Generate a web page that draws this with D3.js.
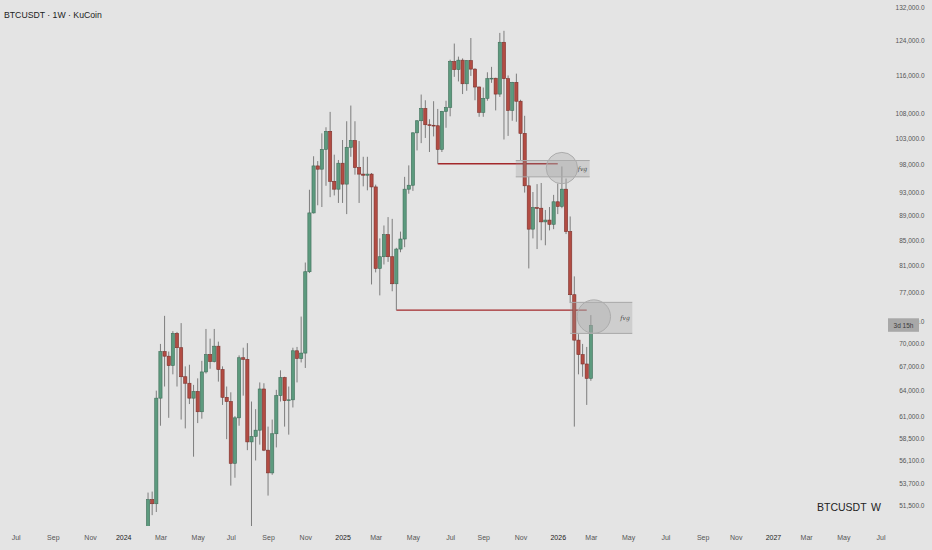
<!DOCTYPE html>
<html><head><meta charset="utf-8">
<script src="https://cdn.jsdelivr.net/npm/d3@7"></script>
<style>
html,body{margin:0;padding:0;background:#e4e4e4;}
svg{display:block;font-family:"Liberation Sans",Arial,sans-serif;}
</style></head><body>
<svg id="c" width="932" height="550"></svg>
<script>
// ---- DATA ----
const dates = [
"2024-02-12","2024-02-19","2024-02-26","2024-03-04","2024-03-11","2024-03-18","2024-03-25","2024-04-01","2024-04-08","2024-04-15",
"2024-04-22","2024-04-29","2024-05-06","2024-05-13","2024-05-20","2024-05-27","2024-06-03","2024-06-10","2024-06-17","2024-06-24",
"2024-07-01","2024-07-08","2024-07-15","2024-07-22","2024-07-29","2024-08-05","2024-08-12","2024-08-19","2024-08-26","2024-09-02",
"2024-09-09","2024-09-16","2024-09-23","2024-09-30","2024-10-07","2024-10-14","2024-10-21","2024-10-28","2024-11-04","2024-11-11",
"2024-11-18","2024-11-25","2024-12-02","2024-12-09","2024-12-16","2024-12-23","2024-12-30",
"2025-01-06","2025-01-13","2025-01-20","2025-01-27","2025-02-03","2025-02-10","2025-02-17","2025-02-24","2025-03-03","2025-03-10",
"2025-03-17","2025-03-24","2025-03-31","2025-04-07","2025-04-14","2025-04-21","2025-04-28","2025-05-05","2025-05-12","2025-05-19",
"2025-05-26","2025-06-02","2025-06-09","2025-06-16","2025-06-23","2025-06-30","2025-07-07","2025-07-14","2025-07-21","2025-07-28",
"2025-08-04","2025-08-11","2025-08-18","2025-08-25","2025-09-01","2025-09-08","2025-09-15","2025-09-22","2025-09-29","2025-10-06",
"2025-10-13","2025-10-20","2025-10-27","2025-11-03","2025-11-10","2025-11-17","2025-11-24","2025-12-01","2025-12-08","2025-12-15",
"2025-12-22","2025-12-29",
"2026-01-05","2026-01-12","2026-01-19","2026-01-26","2026-02-02","2026-02-09","2026-02-16","2026-02-23","2026-03-02"];
const opens = [
48300,52100,51700,63100,68900,68300,67100,71300,69400,65700,
64900,63100,63900,61500,66300,68500,67600,69600,66600,63200,
62700,55800,60800,68100,67900,58100,58700,59400,64200,57200,
54800,59000,63400,65600,62800,62900,69000,68000,68700,80100,
89500,97800,97200,100900,104400,95000,93600,
98300,94500,101300,102600,97500,96300,96100,96300,94000,80600,
82400,85900,82400,78300,83600,85200,93600,94300,104100,106500,
109000,105700,105600,105500,100900,108400,109200,119100,117300,119400,
114200,119300,117400,113500,108200,111100,115300,115400,112000,123500,
115300,108600,114500,110500,104000,94200,86800,90400,90300,88000,
88300,87600,
91400,90600,93600,86400,76700,70400,68500,67300,65500];
const highs = [
52800,52900,64000,69900,73700,68900,71600,71500,72700,67000,
67200,64700,65500,67700,71900,70600,71900,70200,67000,64500,
63800,61000,68400,69400,70000,62700,61800,65000,64900,59800,
60600,64100,66500,65700,64500,69400,69500,73600,81500,93500,
99600,98700,104000,105200,108300,99900,98900,
102700,106400,109600,106400,102500,99500,99500,96500,94400,85300,
87400,88800,88500,83800,86400,95800,97900,104200,106600,111900,
110700,106800,110500,108900,108500,110600,119500,123200,120200,119800,
119400,124500,117600,113600,113400,116700,117900,115500,125700,126200,
116000,114600,116400,110800,107500,95800,93100,94500,94700,90000,
90500,92600,
94600,97700,95500,88900,79400,71200,69900,69500,73800];
const lows = [
47700,50600,50900,59900,64500,60800,66000,64500,60600,59600,
62400,56500,60200,60700,66100,66700,67500,65100,62300,58400,
53500,54300,59900,63400,57200,49000,56100,57800,57100,52500,
54600,57500,62700,59800,58900,62000,65000,67500,66800,79900,
89400,90800,90500,94200,92200,92500,91200,
91200,89300,99500,96200,91200,94100,93400,78200,80000,76600,
81200,81600,77200,74500,83100,83900,92800,93300,100700,102100,
103100,100400,103400,98200,100400,105100,107400,115700,114700,112000,
112700,115900,110700,107300,107300,110600,114400,108600,111400,102800,
103500,106500,106300,98900,93000,80600,85300,83600,85000,84200,
86600,86800,
89300,90300,86000,75500,59800,66000,65700,62300,65200];
const closes = [
52100,51700,63100,68900,68300,67100,71300,69400,65700,64900,
63100,63900,61500,66300,68500,67600,69600,66600,63200,62700,
55800,60800,68100,67900,58100,58700,59400,64200,57200,54800,
59000,63400,65600,62800,62900,69000,68000,68700,80100,89500,
97800,97200,100900,104400,95000,93600,98300,
94500,101300,102600,97500,96300,96100,96300,94000,80600,82400,
85900,82400,78300,83600,85200,93600,94300,104100,106500,109000,
105700,105600,105500,100900,108400,109200,119100,117300,119400,114200,
119300,117400,113500,108200,111100,115300,115400,112000,123500,115300,
108600,114500,110500,104000,94200,86800,90400,90300,88000,88300,
87600,91400,
90600,93600,86400,76700,70400,68500,67300,65500,72400];

const priceTicks = [132000,124000,116000,108000,103000,98000,93000,89000,85000,81000,77000,73000,70000,67000,64000,61000,58500,56100,53700,51500];
const monthStarts = ["2023-07-01","2023-09-01","2023-11-01","2024-01-01","2024-03-01","2024-05-01","2024-07-01","2024-09-01","2024-11-01",
"2025-01-01","2025-03-01","2025-05-01","2025-07-01","2025-09-01","2025-11-01","2026-01-01","2026-03-01","2026-05-01","2026-07-01",
"2026-09-01","2026-11-01","2027-01-01","2027-03-01","2027-05-01","2027-07-01"];
const monthLabels = ["Jul","Sep","Nov","2024","Mar","May","Jul","Sep","Nov","2025","Mar","May","Jul","Sep","Nov","2026","Mar","May","Jul","Sep","Nov","2027","Mar","May","Jul"];

const levelLines = [
  {from:"2025-06-16", to:"2026-01-05", price:98200},
  {from:"2025-04-07", to:"2026-02-23", price:74500}
];
const fvgZones = [
  {from:"2025-10-26", to:"2026-02-28", lo:95800, hi:98800, label:"fvg"},
  {from:"2026-01-26", to:"2026-05-11", lo:71300, hi:75600, label:"fvg"}
];
const circleMarks = [
  {date:"2026-01-12", price:97400, r:15.7},
  {date:"2026-03-07", price:73600, r:16.7}
];
const title = "BTCUSDT · 1W · KuCoin";
const countdown = "3d 15h";

// ---- CHART ----
const W = 932, H = 550;
const svg = d3.select("#c");
const parse = d3.utcParse("%Y-%m-%d");

svg.append("rect").attr("width", W).attr("height", H).attr("fill", "#e4e4e4");

const x = d3.scaleUtc()
  .domain([Date.UTC(2024,0,1), Date.UTC(2027,0,1)])
  .range([123.2, 771.2]);
const y = d3.scaleLog()
  .domain([51500, 132000])
  .range([505.8, 7]);

const candles = dates.map((d,i)=>({date:parse(d), o:opens[i], h:highs[i], l:lows[i], c:closes[i]}));

svg.append("defs").append("clipPath").attr("id","plot")
  .append("rect").attr("x",0).attr("y",0).attr("width",884).attr("height",526);

const plot = svg.append("g").attr("clip-path","url(#plot)");

// level lines
plot.selectAll("line.level").data(levelLines).enter().append("line")
  .attr("class","level")
  .attr("x1", d=>x(parse(d.from))).attr("x2", d=>x(parse(d.to)))
  .attr("y1", d=>y(d.price)).attr("y2", d=>y(d.price))
  .attr("stroke","#a3282b").attr("stroke-width",1.4);

// candles
const cg = plot.selectAll("g.candle").data(candles).enter().append("g").attr("class","candle");
cg.append("line")
  .attr("x1", d=>x(d.date)).attr("x2", d=>x(d.date))
  .attr("y1", d=>y(d.h)).attr("y2", d=>y(d.l))
  .attr("stroke","#7d7d7d").attr("stroke-width",1);
cg.append("rect")
  .attr("x", d=>x(d.date)-1.6).attr("width",3.2)
  .attr("y", d=>y(Math.max(d.o,d.c)))
  .attr("height", d=>Math.max(0.8, Math.abs(y(d.o)-y(d.c))))
  .attr("fill", d=> d.c>=d.o ? "#5c9a7e" : "#b24c43")
  .attr("stroke", d=> d.c>=d.o ? "#3f6e59" : "#7c302b")
  .attr("stroke-width",0.6);

// fvg zones
const zg = plot.selectAll("g.fvg").data(fvgZones).enter().append("g").attr("class","fvg");
zg.append("rect")
  .attr("x", d=>x(parse(d.from))).attr("width", d=>x(parse(d.to))-x(parse(d.from)))
  .attr("y", d=>y(d.hi)).attr("height", d=>y(d.lo)-y(d.hi))
  .attr("fill","rgba(150,150,150,0.28)");
zg.append("line")
  .attr("x1", d=>x(parse(d.from))).attr("x2", d=>x(parse(d.to)))
  .attr("y1", d=>y(d.hi)).attr("y2", d=>y(d.hi))
  .attr("stroke","#a8a8a8").attr("stroke-width",1);
zg.append("line")
  .attr("x1", d=>x(parse(d.from))).attr("x2", d=>x(parse(d.to)))
  .attr("y1", d=>y(d.lo)).attr("y2", d=>y(d.lo))
  .attr("stroke","#a8a8a8").attr("stroke-width",1);
zg.append("text")
  .attr("x", d=>x(parse(d.to))-2.5).attr("y", d=>(y(d.hi)+y(d.lo))/2+2)
  .attr("text-anchor","end")
  .attr("font-size",6).attr("font-style","italic")
  .attr("font-family","'DejaVu Serif',serif")
  .attr("fill","#444").text(d=>d.label);

// circles
plot.selectAll("circle.mark").data(circleMarks).enter().append("circle")
  .attr("class","mark")
  .attr("cx", d=>x(parse(d.date))).attr("cy", d=>y(d.price)).attr("r", d=>d.r)
  .attr("fill","rgba(175,175,175,0.4)")
  .attr("stroke","#acacac").attr("stroke-width",1);

// y axis
const yAxis = d3.axisLeft(y).tickValues(priceTicks).tickFormat(d3.format(",.1f")).tickSize(0).tickPadding(0);
const yg = svg.append("g").attr("transform","translate(924.5,0)").call(yAxis);
yg.select(".domain").remove();
yg.selectAll("text").attr("font-size",6.5).attr("fill","#555").attr("font-family","'Liberation Sans',Arial,sans-serif");

// x axis
const tickDates = monthStarts.map(s=>d3.utcMonday.ceil(parse(s)));
const xAxis = d3.axisBottom(x).tickValues(tickDates).tickFormat((d,i)=>monthLabels[i]).tickSize(0).tickPadding(0);
const xg = svg.append("g").attr("transform","translate(0,535.5)").call(xAxis);
xg.select(".domain").remove();
xg.selectAll("text").attr("font-size",7).attr("font-family","'Liberation Sans',Arial,sans-serif")
  .attr("fill",(d,i)=>/^\d{4}$/.test(monthLabels[i]) ? "#222" : "#555");

// countdown tag (sits on top of the hidden 73,000 tick like the reference)
const lastClose = closes[closes.length-1];
const tagY = y(lastClose);
svg.append("rect").attr("x",888).attr("y",tagY-7).attr("width",31).attr("height",13.5).attr("fill","#a8a8a8");
svg.append("text").attr("x",903.5).attr("y",tagY+2.5).attr("text-anchor","middle")
  .attr("font-size",6.5).attr("fill","#3a3a3a").text(countdown);

// title
svg.append("text").attr("x",4).attr("y",18).attr("font-size",8.7).attr("fill","#222").text(title);

// symbol watermark
svg.append("text").attr("x",817).attr("y",511).attr("font-size",10.5).attr("fill","#222").text("BTCUSDT");
svg.append("text").attr("x",871).attr("y",511).attr("font-size",10.5).attr("fill","#222").text("W");
</script>
</body></html>
